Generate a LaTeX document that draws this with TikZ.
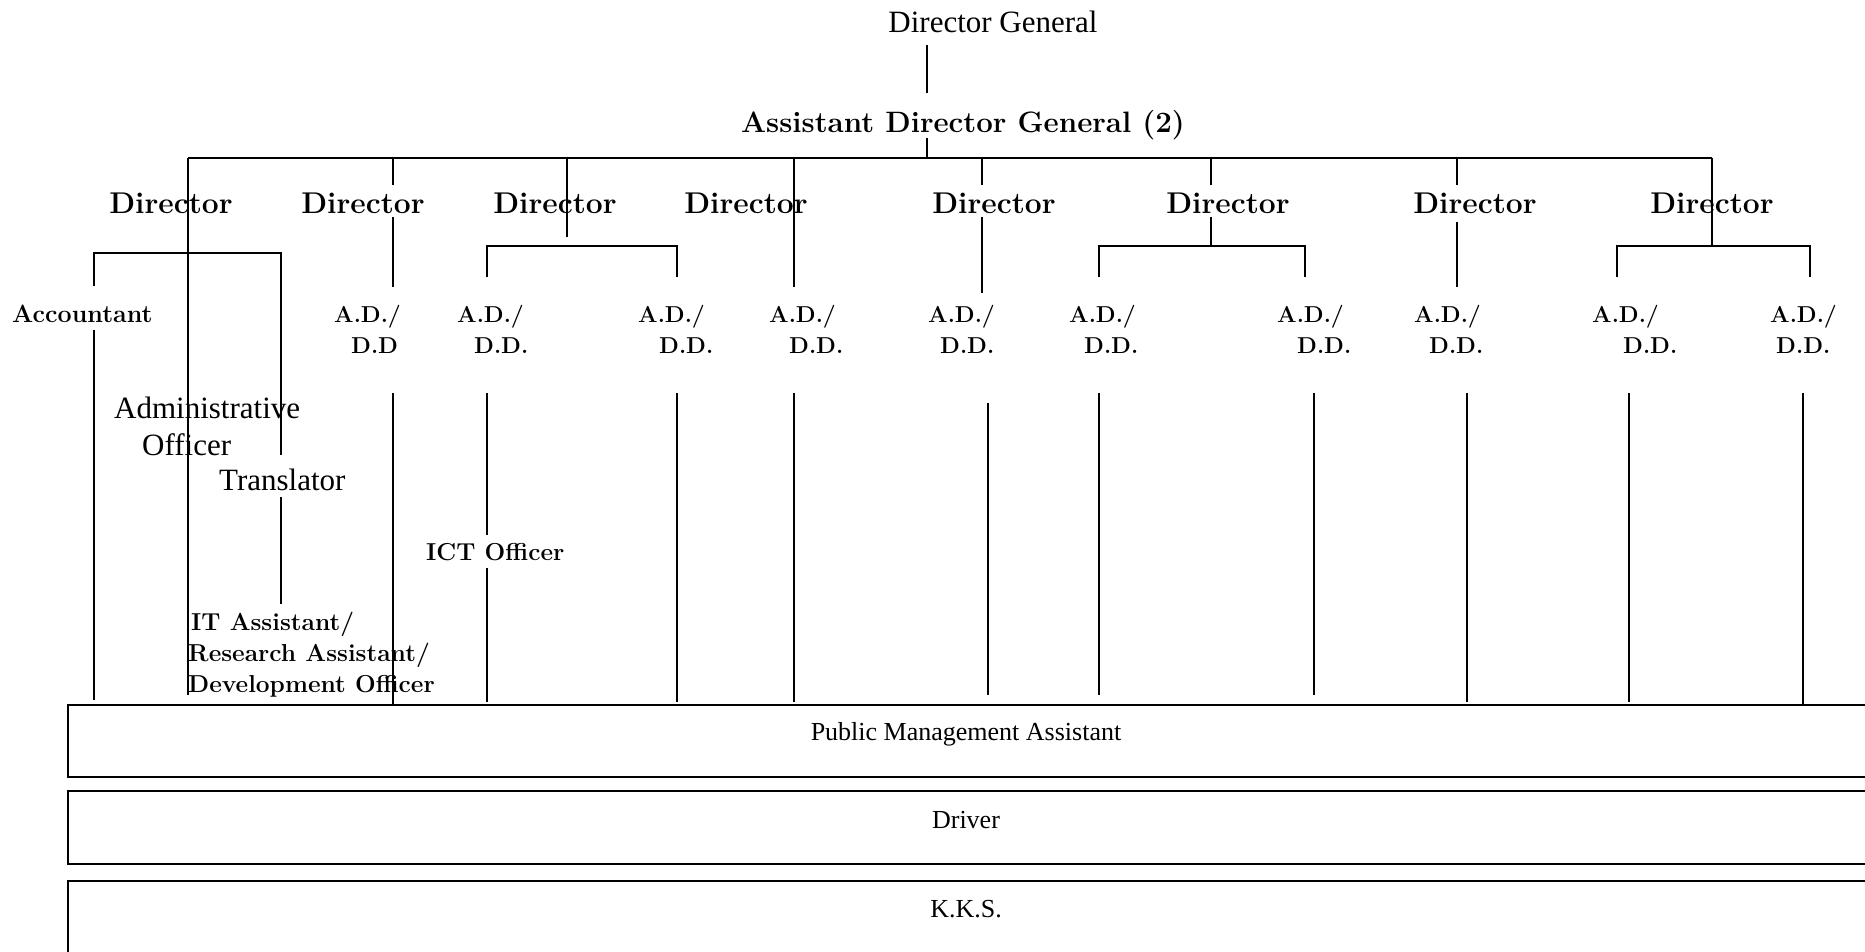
\documentclass[tikz,border=0pt]{standalone}
\usepackage{fontspec}
\newfontfamily\tnr{Liberation Serif}
\newcommand\adlab[2]{\begin{tabular}[t]{@{}l@{}}A.D./\\\hspace*{#1pt}#2\end{tabular}}
\newcommand\stack[1]{\begin{tabular}[t]{@{}l@{}}#1\end{tabular}}
\tikzset{
  reg/.style={font={\tnr\fontsize{31}{37}\selectfont}, inner sep=0pt},
  boxtxt/.style={font={\tnr\fontsize{26}{30}\selectfont}, inner sep=0pt},
  bld/.style={font={\bfseries\fontsize{30}{34}\selectfont}, inner sep=0pt},
  adgstyle/.style={font={\bfseries\fontsize{29.5}{34}\selectfont}, inner sep=0pt},
  lbl/.style={font={\bfseries\fontsize{24.5}{31}\selectfont}, inner sep=0pt},
  accstyle/.style={font={\bfseries\fontsize{25}{31}\selectfont}, inner sep=0pt},
  adstyle/.style={font={\bfseries\fontsize{23}{31}\selectfont}, inner sep=0pt, anchor=base west},
  ln/.style={line width=1.6pt},
  bxline/.style={line width=2.4pt},
}
\begin{document}
\begin{tikzpicture}[x=1pt,y=-1pt]
\useasboundingbox (0,0) rectangle (1865,951);
\clip (0,0) rectangle (1865,951);

% ---------- coordinates ----------
\coordinate (dgS) at (927,45);   \coordinate (adgN) at (927,93);
\coordinate (adgS) at (927,138); \coordinate (busM) at (927,158);
\foreach \n/\x in {1/188,2/393,3/567,4/794,5/982,6/1211,7/1457,8/1712}{
  \coordinate (b\n) at (\x,158);
}

% ---------- connectors ----------
\draw[ln] (dgS) -- (adgN);
\draw[ln] (adgS) -- (busM);
\draw[ln] (b1) -- (b8);

% director 1
\coordinate (d1end) at (188,695);
\draw[ln] (b1) -- (d1end);
\coordinate (br1L) at (94,253); \coordinate (br1R) at (281,253);
\coordinate (accN) at (94,286); \coordinate (accS) at (94,330); \coordinate (accE) at (94,700);
\coordinate (trN) at (281,455); \coordinate (trS) at (281,497); \coordinate (itN) at (281,604);
\draw[ln] (accN) -- (br1L) -- (br1R) -- (trN);
\draw[ln] (accS) -- (accE);
\draw[ln] (trS) -- (itN);

% director 2
\coordinate (d2a) at (393,185); \coordinate (d2b) at (393,217); \coordinate (d2c) at (393,287);
\draw[ln] (b2) -- (d2a);
\draw[ln] (d2b) -- (d2c);
\draw[ln] (393,393) coordinate (l2a) -- (393,705) coordinate (l2b);

% director 3
\coordinate (d3a) at (567,237);
\draw[ln] (b3) -- (d3a);
\draw[ln] (487,277) coordinate (br3a) -- (487,246) coordinate (br3b) -- (677,246) coordinate (br3c) -- (677,277) coordinate (br3d);
\draw[ln] (487,393) coordinate (l3a) -- (487,535) coordinate (l3b);
\draw[ln] (487,568) coordinate (l3c) -- (487,702) coordinate (l3d);
\draw[ln] (677,393) coordinate (l3e) -- (677,702) coordinate (l3f);

% director 4
\draw[ln] (b4) -- (794,287) coordinate (d4a);
\draw[ln] (794,393) coordinate (l4a) -- (794,702) coordinate (l4b);

% director 5
\draw[ln] (b5) -- (982,185) coordinate (d5a);
\draw[ln] (982,217) coordinate (d5b) -- (982,293) coordinate (d5c);
\draw[ln] (988,403) coordinate (l5a) -- (988,695) coordinate (l5b);

% director 6
\draw[ln] (b6) -- (1211,185) coordinate (d6a);
\draw[ln] (1211,217) coordinate (d6b) -- (1211,246) coordinate (d6c);
\draw[ln] (1099,277) coordinate (br6a) -- (1099,246) coordinate (br6b) -- (1305,246) coordinate (br6c) -- (1305,277) coordinate (br6d);
\draw[ln] (1099,393) coordinate (l6a) -- (1099,695) coordinate (l6b);
\draw[ln] (1314,393) coordinate (l6c) -- (1314,695) coordinate (l6d);

% director 7
\draw[ln] (b7) -- (1457,185) coordinate (d7a);
\draw[ln] (1457,222) coordinate (d7b) -- (1457,287) coordinate (d7c);
\draw[ln] (1467,393) coordinate (l7a) -- (1467,702) coordinate (l7b);

% director 8
\draw[ln] (b8) -- (1712,246) coordinate (d8a);
\draw[ln] (1617,277) coordinate (br8a) -- (1617,246) coordinate (br8b) -- (1810,246) coordinate (br8c) -- (1810,277) coordinate (br8d);
\draw[ln] (1629,393) coordinate (l8a) -- (1629,702) coordinate (l8b);
\draw[ln] (1803,393) coordinate (l8c) -- (1803,705) coordinate (l8d);

% ---------- bottom boxes ----------
\draw[bxline] (68,705) rectangle (1900,777);
\draw[bxline] (68,791) rectangle (1900,864);
\draw[bxline] (68,881) rectangle (1900,1000);
\node[boxtxt,anchor=base] (pma) at (966,740) {Public Management Assistant};
\node[boxtxt,anchor=base] (drv) at (966,828) {Driver};
\node[boxtxt,anchor=base] (kks) at (966,917) {K.K.S.};

% ---------- text nodes ----------
\node[reg,anchor=base] (dg) at (993,32) {Director General};
\node[adgstyle,anchor=base] (adg) at (963,132) {Assistant Director General (2)};
\foreach \n/\x in {1/171,2/363,3/555,4/746,5/994,6/1228,7/1475,8/1712}{
  \node[bld,anchor=base] (d\n) at (\x,213) {Director};
}

\node[accstyle,anchor=base west] (acc) at (12,322) {Accountant};
\node[adstyle] (ad2) at (334,322) {\adlab{17}{D.D}};
\node[adstyle] (ad3a) at (457,322) {\adlab{17}{D.D.}};
\node[adstyle] (ad3b) at (638,322) {\adlab{21}{D.D.}};
\node[adstyle] (ad4) at (769,322) {\adlab{20}{D.D.}};
\node[adstyle] (ad5) at (928,322) {\adlab{12}{D.D.}};
\node[adstyle] (ad6a) at (1069,322) {\adlab{15}{D.D.}};
\node[adstyle] (ad6b) at (1277,322) {\adlab{20}{D.D.}};
\node[adstyle] (ad7) at (1414,322) {\adlab{15}{D.D.}};
\node[adstyle] (ad8a) at (1592,322) {\adlab{31}{D.D.}};
\node[adstyle] (ad8b) at (1770,322) {\adlab{6}{D.D.}};

\node[reg,anchor=base west] (ao) at (114,418) {\stack{Administrative\\\hspace*{28pt}Officer}};
\node[reg,anchor=base west] (tr) at (219,490) {Translator};
\node[lbl,anchor=base west] (ict) at (426,560) {ICT Officer};
\node[lbl,anchor=base west] (ita) at (188,630) {\stack{\hspace*{3pt}IT Assistant/\\Research Assistant/\\Development Officer}};
\end{tikzpicture}
\end{document}
